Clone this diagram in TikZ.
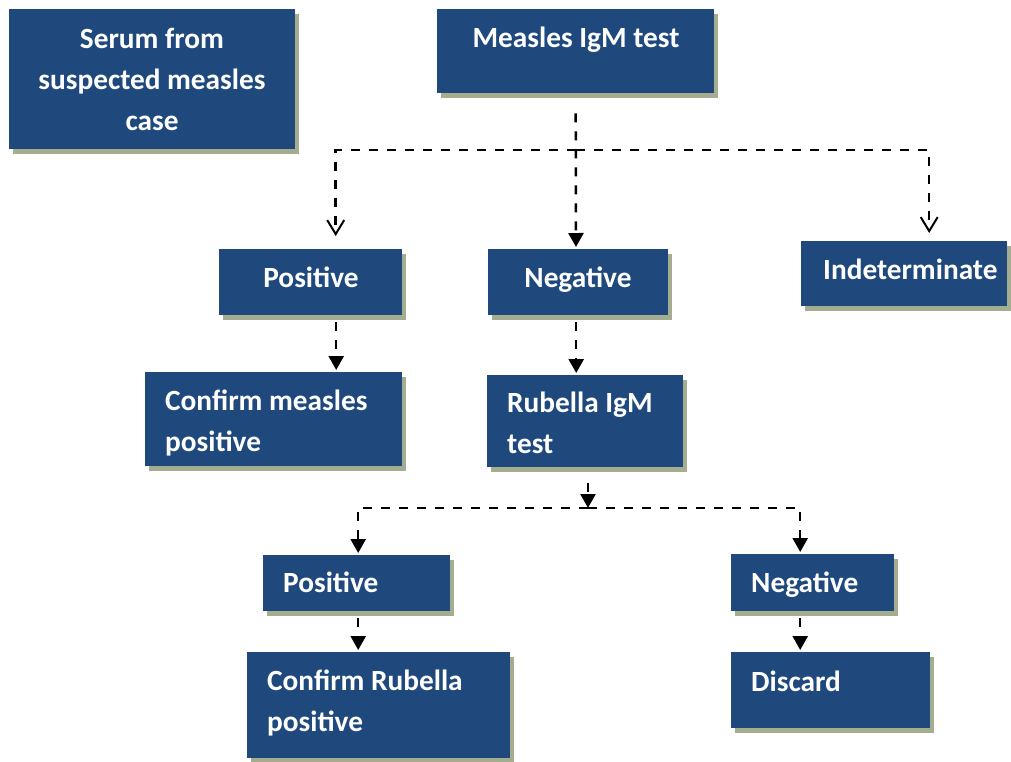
\documentclass[tikz,border=0pt]{standalone}
\usepackage{fontspec}
\setmainfont{Carlito}
\usetikzlibrary{arrows.meta,shadows}
\definecolor{boxblue}{HTML}{1F497D}
\definecolor{shadowc}{HTML}{A4AD90}
\tikzset{
  box/.style={fill=boxblue, draw=none, anchor=north west, inner sep=0pt,
    general shadow={fill=shadowc, shadow xshift=4pt, shadow yshift=-5pt}},
  txt/.style={text=white, font=\fontsize{29.3}{41}\selectfont\bfseries, inner sep=0pt},
  dl/.style={line width=2.5pt, dash pattern=on 9pt off 9pt},
  fa/.style={dl, -{Triangle[length=14pt,width=15pt]}},
  oa/.style={dl, -{Straight Barb[length=14pt,width=17pt,line width=2pt]}},
}
\begin{document}
\begin{tikzpicture}[x=1pt,y=-1pt]
\useasboundingbox (0,0) rectangle (1011,761);
% boxes
\node[box, minimum width=286pt, minimum height=140pt] (serum) at (9,9) {};
\node[box, minimum width=277pt, minimum height=84pt] (mig) at (437,9) {};
\node[box, minimum width=183pt, minimum height=66pt] (pos1) at (219,249) {};
\node[box, minimum width=180pt, minimum height=66pt] (neg1) at (488,249) {};
\node[box, minimum width=206pt, minimum height=65pt] (ind) at (801,241) {};
\node[box, minimum width=257pt, minimum height=94pt] (cm) at (145,372) {};
\node[box, minimum width=196pt, minimum height=92pt] (rub) at (487,375) {};
\node[box, minimum width=187pt, minimum height=56pt] (pos2) at (263,555) {};
\node[box, minimum width=163pt, minimum height=57pt] (neg2) at (731,554) {};
\node[box, minimum width=263pt, minimum height=106pt] (crp) at (247,652) {};
\node[box, minimum width=199pt, minimum height=76pt] (dis) at (731,652) {};
% texts (multi-line nodes anchored at the baseline of their last line)
\node[txt, anchor=base, align=center] (tserum) at (152,130) {Serum from\\suspected measles\\case};
\node[txt, anchor=base] (tmig) at (576,47) {Measles IgM test};
\node[txt, anchor=base] (tpos1) at (311,287) {Positive};
\node[txt, anchor=base] (tneg1) at (578,287) {Negative};
\node[txt, anchor=base west] (tind) at (823,279) {Indeterminate};
\node[txt, anchor=base west, align=left] (tcm) at (165,451) {Confirm measles\\positive};
\node[txt, anchor=base west, align=left] (trub) at (507,453) {Rubella IgM\\test};
\node[txt, anchor=base west] (tpos2) at (283,592) {Positive};
\node[txt, anchor=base west] (tneg2) at (751,592) {Negative};
\node[txt, anchor=base west, align=left] (tcrp) at (267,731) {Confirm Rubella\\positive};
\node[txt, anchor=base west] (tdis) at (751,691) {Discard};
% junctions
\coordinate (j1) at (576,150);
\coordinate (j2) at (588,508);
% connectors
\draw[fa, shorten >=2pt] ([yshift=-20pt]mig.south) -- (neg1.north -| j1);
\draw[oa, shorten >=13pt] (j1) -| ([xshift=25pt]pos1.north);
\draw[oa, shorten >=8pt] (j1) -| ([xshift=25pt]ind.north);
\draw[fa, shorten >=2pt] ([xshift=25.5pt,yshift=-7pt]pos1.south) -- ([xshift=25.5pt]pos1.south |- cm.north);
\draw[fa, shorten >=2pt] ([xshift=-2pt,yshift=-7pt]neg1.south) -- ([xshift=-2pt]neg1.south |- rub.north);
\draw[fa] ([yshift=-16pt]rub.south -| j2) -- (j2);
\draw[fa, shorten >=2pt] (j2) -| ([xshift=1.5pt]pos2.north);
\draw[fa, shorten >=2pt] (j2) -| ([xshift=-12.5pt]neg2.north);
\draw[fa, shorten >=2pt] ([xshift=1.5pt,yshift=-7pt]pos2.south) -- ([xshift=1.5pt]pos2.south |- crp.north);
\draw[fa, shorten >=2pt] ([xshift=-12.5pt,yshift=-7pt]neg2.south) -- ([xshift=-12.5pt]neg2.south |- dis.north);
\end{tikzpicture}
\end{document}
